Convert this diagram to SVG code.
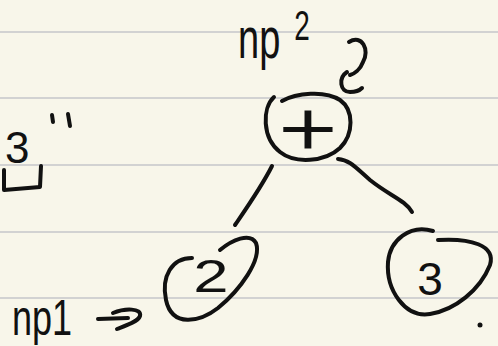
<svg xmlns="http://www.w3.org/2000/svg" width="498" height="346" viewBox="0 0 498 346">
<style>
.rule{stroke:#d2d2d2;stroke-width:2}
.ink{fill:none;stroke:#111;stroke-width:4;stroke-linecap:round;stroke-linejoin:round}
.hw{font-family:"Liberation Sans","DejaVu Sans",sans-serif;fill:#111}
</style>
<rect width="498" height="346" fill="#f8f6ea"/>
<g id="ruling">
<line class="rule" x1="0" y1="32" x2="498" y2="32"/>
<line class="rule" x1="0" y1="98" x2="498" y2="98"/>
<line class="rule" x1="0" y1="165" x2="498" y2="165"/>
<line class="rule" x1="0" y1="232" x2="498" y2="232"/>
<line class="rule" x1="0" y1="298" x2="498" y2="298"/>
</g>
<g id="connectors">
<path class="ink" d="M272,166 C262,186 248,206 235,225"/>
<path class="ink" d="M338,159 C350,160 356,168 370,180 C390,196 405,200 412,212"/>
</g>
<g id="node-plus">
<path class="ink" d="M274,97 C262,108 262,138 280,152 C295,164 325,162 340,148 C354,134 354,110 340,100 C325,90 296,93 282,101"/>
<text font-family="Inter,'Liberation Sans',sans-serif" font-weight="300" fill="#111" font-size="84" text-anchor="middle" transform="translate(308,153) scale(1.3,1)">+</text>
</g>
<g id="node-2">
<path class="ink" d="M220,250 C232,240 250,232 256,243 C262,260 240,290 218,308 C200,322 172,328 166,300 C161,276 172,258 192,258"/>
<text class="hw" font-size="47" text-anchor="middle" transform="translate(211,292) scale(1.35,1)">2</text>
</g>
<g id="node-3">
<path class="ink" d="M433,231 C410,224 390,240 388,262 C386,290 405,318 430,314 C455,310 480,290 490,265 C496,245 470,238 438,240"/>
<text class="hw" font-size="46" text-anchor="middle" transform="translate(430,295)">3</text>
</g>
<g id="label-np2">
<text class="hw" font-size="38" transform="translate(238,58) scale(1,1.5)">np<tspan font-size="28" dx="14" dy="-12">2</tspan></text>
<path class="ink" d="M349,42 C362,34 370,50 363,62 C360,70 354,74 350,75 M347,72 C338,78 340,92 350,92 C355,92 360,90 362,88"/>
</g>
<g id="label-3">
<text class="hw" font-size="44" transform="translate(5,163)">3</text>
<path class="ink" d="M52,115 L53,122 M68,114 L70,126"/>
<path class="ink" d="M4,170 L4,190 L40,187 L41,166"/>
</g>
<g id="label-np1">
<text class="hw" font-size="36" transform="translate(12,335) scale(1,1.4)">np1</text>
<path class="ink" d="M98,319 L128,318 M113,313 C125,308 142,308 140,316 C138,322 125,326 117,329"/>
</g>
<circle cx="480" cy="325" r="2.5" fill="#111"/>
</svg>
